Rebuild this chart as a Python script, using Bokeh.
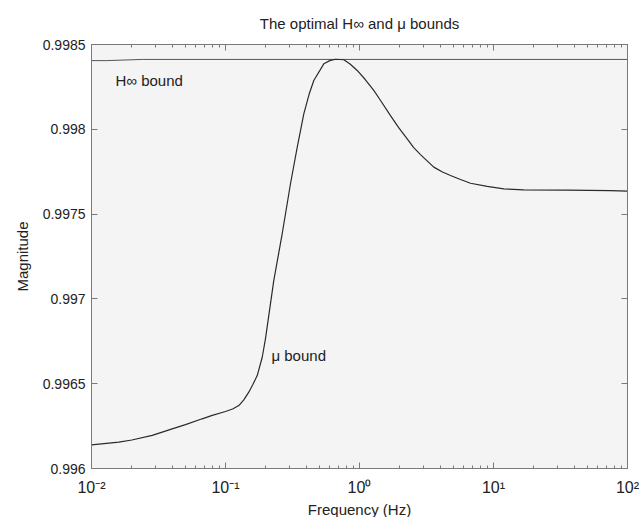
from bokeh.plotting import figure
from bokeh.models import LogAxis, LinearAxis, FixedTicker, Label
from bokeh.embed import file_html
from bokeh.resources import INLINE

# ---- data ----
freq = [0.01, 0.016, 0.020, 0.0284, 0.040, 0.0503, 0.067, 0.0796, 0.100, 0.1130, 0.1257,
        0.1370, 0.1492, 0.160, 0.1725, 0.188, 0.1991, 0.2292, 0.2649, 0.3055, 0.3428,
        0.384, 0.420, 0.456, 0.5416, 0.600, 0.6622, 0.7638, 0.850, 0.9611, 1.10, 1.278,
        1.436, 1.703, 1.954, 2.27, 2.53, 2.852, 3.584, 4.16, 4.775, 5.67, 6.735,
        8.974, 11.94, 16.83, 35.48, 74.6, 100.0]
mu_bound = [0.996139, 0.996155, 0.996168, 0.996195, 0.996234, 0.996259, 0.996293, 0.996313,
            0.996336, 0.996351, 0.996371, 0.996405, 0.996450, 0.996495, 0.996548, 0.996656,
            0.996769, 0.997108, 0.997384, 0.997679, 0.997894, 0.998091, 0.998205, 0.998288,
            0.998386, 0.998405, 0.998413, 0.998410, 0.998385, 0.998347, 0.998295, 0.998229,
            0.998170, 0.998081, 0.998011, 0.997944, 0.997893, 0.997851, 0.997777, 0.997748,
            0.997728, 0.997704, 0.997682, 0.997663, 0.997649, 0.997643, 0.997641, 0.997639,
            0.997636]
hinf_freq = [0.01, 0.013, 0.024, 100.0]
hinf_bound = [0.998405, 0.998405, 0.998412, 0.998412]

xticks = [0.01, 0.1, 1, 10, 100]
xtick_labels = ["10\u207b\u00b2", "10\u207b\u00b9", "10\u2070", "10\u00b9", "10\u00b2"]
yticks = [0.996, 0.9965, 0.997, 0.9975, 0.998, 0.9985]
ytick_labels = ["0.996", "0.9965", "0.997", "0.9975", "0.998", "0.9985"]

title_text = "The optimal H\u221e and \u03bc bounds"
xlabel = "Frequency (Hz)"
ylabel = "Magnitude"
hinf_text = "H\u221e bound"
mu_text = "\u03bc bound"
hinf_text_pos = (0.0151, 0.998288)
mu_text_pos = (0.2203, 0.996666)

FONT = "Liberation Sans"
AX = "#7a7a7a"
TXT = "#222222"

xminor = [m * d for d in [0.01, 0.1, 1, 10] for m in range(2, 10)]

p = figure(x_axis_type="log", x_range=(0.01, 100), y_range=(0.996, 0.9985),
           frame_width=536, frame_height=424,
           min_border_left=91, min_border_right=13, min_border_top=44, min_border_bottom=49,
           output_backend="svg", toolbar_location=None,
           background_fill_color="#f4f4f4", border_fill_color="white")
p.grid.visible = False
p.outline_line_color = AX

p.title.text = title_text
p.title.align = "center"
p.title.vertical_align = "top"
p.title.text_font = FONT
p.title.text_font_size = "15px"
p.title.text_font_style = "normal"
p.title.text_color = TXT
p.title.standoff = 22

xt = FixedTicker(ticks=xticks, minor_ticks=xminor)
yt = FixedTicker(ticks=yticks)


def style(ax, labels=True):
    ax.axis_line_color = AX
    ax.major_tick_line_color = AX
    ax.minor_tick_line_color = AX
    ax.major_tick_in = 6
    ax.major_tick_out = 0
    ax.minor_tick_in = 3
    ax.minor_tick_out = 0
    ax.major_label_text_font = FONT
    ax.major_label_text_color = TXT
    ax.major_label_text_font_size = "14px"
    ax.axis_label_text_font = FONT
    ax.axis_label_text_font_style = "normal"
    ax.axis_label_text_color = TXT
    ax.axis_label_text_font_size = "15px"
    if not labels:
        ax.major_label_text_color = None
        ax.major_label_text_font_size = "2px"
        ax.major_label_standoff = 0


xa = p.xaxis[0]
xa.ticker = xt
xa.major_label_overrides = dict(zip(xticks, xtick_labels))
xa.axis_label = xlabel
style(xa)
xa.major_label_text_font_size = "16px"
xa.major_label_standoff = 10
xa.axis_label_standoff = 2

ya = p.yaxis[0]
ya.ticker = yt
ya.major_label_overrides = dict(zip(yticks, ytick_labels))
ya.axis_label = ylabel
style(ya)
ya.minor_tick_line_color = None
ya.major_label_standoff = 6
ya.axis_label_standoff = 9

top = LogAxis(ticker=xt)
style(top, labels=False)
p.add_layout(top, "above")
right = LinearAxis(ticker=yt)
style(right, labels=False)
right.minor_tick_line_color = None
p.add_layout(right, "right")

p.line(hinf_freq, hinf_bound, line_color="#555555", line_width=1)
p.line(freq, mu_bound, line_color="#2a2a2a", line_width=1.2)

p.add_layout(Label(x=hinf_text_pos[0], y=hinf_text_pos[1], text=hinf_text,
                   text_font=FONT, text_font_size="15px", text_color=TXT,
                   text_baseline="middle", text_align="left"))
p.add_layout(Label(x=mu_text_pos[0], y=mu_text_pos[1], text=mu_text,
                   text_font=FONT, text_font_size="15px", text_color=TXT,
                   text_baseline="middle", text_align="left"))

open("out.html", "w").write(file_html(p, INLINE))
